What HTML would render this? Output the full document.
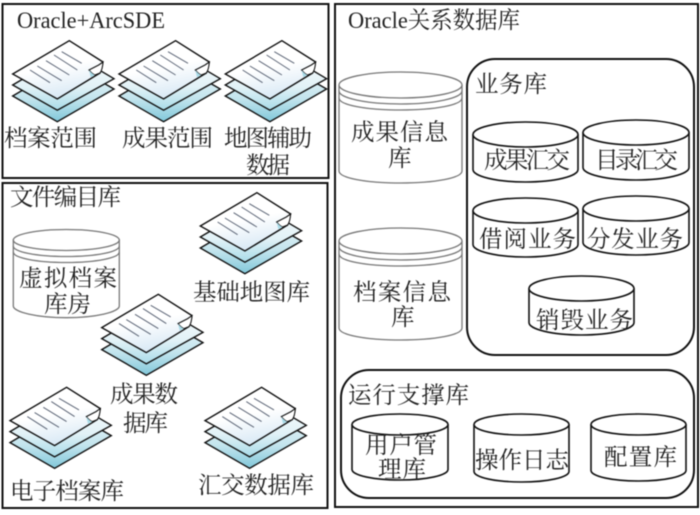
<!DOCTYPE html>
<html><head><meta charset="utf-8">
<style>
html,body{margin:0;padding:0;background:#fff;width:700px;height:515px;overflow:hidden}
svg{display:block;filter:blur(0.4px)}
text{font-family:"Liberation Serif","Noto Serif CJK SC",serif;font-size:23.5px;fill:#222}
</style></head>
<body>
<svg width="700" height="515" viewBox="0 0 700 515" xmlns="http://www.w3.org/2000/svg">
<defs>
<linearGradient id="g1" x1="0" y1="0" x2="0" y2="1"><stop offset="0" stop-color="#f0f8fb"/><stop offset="0.6" stop-color="#c4e5ee"/><stop offset="1" stop-color="#82c8da"/></linearGradient>
<linearGradient id="g2" x1="0" y1="0" x2="0" y2="1"><stop offset="0" stop-color="#fbfdfe"/><stop offset="0.6" stop-color="#e2f2f7"/><stop offset="1" stop-color="#a9dbe8"/></linearGradient>
<linearGradient id="g3" x1="0" y1="0" x2="0.3" y2="1"><stop offset="0" stop-color="#ffffff"/><stop offset="0.55" stop-color="#ffffff"/><stop offset="1" stop-color="#dcebf6"/></linearGradient>
<g id="doc" stroke-linejoin="miter">
<path d="M0 55.3L56 22.3L101.3 48.3L44.6 81Z" fill="url(#g1)" stroke="#111" stroke-width="1.4"/>
<path d="M0 44.3L56 11.3L101.3 38L44.6 69.5Z" fill="url(#g2)" stroke="#111" stroke-width="1.4"/>
<path d="M0 33.3L56.6 0L90.3 21.3L87.3 32.3L44.6 58.3Z" fill="url(#g3)" stroke="#111" stroke-width="1.4"/>
<path d="M76.3 29.3L86 24.3L90.3 21.3C90 26 89 30 87.3 32.3L82.3 34.3C80 33.5 78 31.5 76.3 29.3Z" fill="#fff" stroke="#111" stroke-width="1.1"/>
<path d="M76.3 29.3C78 31.5 80 33.5 82.3 34.3L78 36.5Z" fill="#a9dbe8"/>
<g stroke="#5d6677" stroke-width="1">
<path d="M49 11L69 22.6"/><path d="M41.3 14.3L64.6 29.3"/><path d="M33.3 20L56.6 34.3"/><path d="M24.6 25.3L49 40"/><path d="M17.3 29.3L37.3 42"/>
</g>
</g>
</defs>
<rect width="700" height="515" fill="#fff"/>
<g fill="none" stroke="#111" stroke-width="2">
<rect x="2.5" y="4" width="326" height="174"/>
<rect x="2.5" y="183" width="325" height="325"/>
<rect x="335" y="4" width="363" height="503"/>
<rect x="467" y="59" width="227" height="296" rx="28" ry="28"/>
<rect x="341" y="370" width="353" height="128" rx="28" ry="28"/>
</g>

<use href="#doc" x="12.7" y="40.7"/>
<use href="#doc" x="119" y="40.7"/>
<use href="#doc" x="225.3" y="40.7"/>
<use href="#doc" x="200.3" y="192.7"/>
<use href="#doc" x="101.7" y="294.3"/>
<use href="#doc" x="10" y="387.3"/>
<use href="#doc" x="205" y="387.3"/>

<!-- gray cylinders -->
<g fill="#fff" stroke="#777" stroke-width="1.3">
<path d="M13.3 240V306C13.3 312 37 317.7 66.3 317.7S119.3 312 119.3 306V240"/>
<ellipse cx="66.3" cy="240" rx="53" ry="10.5"/>
<path d="M13.3 246C13.3 252 37 256.5 66.3 256.5S119.3 252 119.3 246" fill="none"/>
<path d="M13.3 252C13.3 258 37 262.5 66.3 262.5S119.3 258 119.3 252" fill="none"/>
<path d="M339 85V171C339 178 366 183 400.5 183S462 178 462 171V85"/>
<ellipse cx="400.5" cy="85" rx="61.5" ry="13"/>
<path d="M339 91C339 98 366 104 400.5 104S462 98 462 91" fill="none"/>
<path d="M339 98C339 105 366 110 400.5 110S462 105 462 98" fill="none"/>
<path d="M339 241V328C339 335 366 340 400.5 340S462 335 462 328V241"/>
<ellipse cx="400.5" cy="241" rx="61.5" ry="13"/>
<path d="M339 247C339 254 366 260 400.5 260S462 254 462 247" fill="none"/>
<path d="M339 254C339 261 366 266 400.5 266S462 261 462 254" fill="none"/>
</g>

<!-- black cylinders -->
<g fill="#fff" stroke="#111" stroke-width="1.6">
<path d="M473 134.500V169.500A52.500 12.500 0 0 0 578 169.500V134.500"/><ellipse cx="525.500" cy="134.500" rx="52.500" ry="12.500"/>
<path d="M583 132.500V167.500A53 12.500 0 0 0 689 167.500V132.500"/><ellipse cx="636" cy="132.500" rx="53" ry="12.500"/>
<path d="M473 210.500V244.500A52.500 12.500 0 0 0 578 244.500V210.500"/><ellipse cx="525.500" cy="210.500" rx="52.500" ry="12.500"/>
<path d="M583 208.500V242.500A53 12.500 0 0 0 689 242.500V208.500"/><ellipse cx="636" cy="208.500" rx="53" ry="12.500"/>
<path d="M529 288.500V322.500A52.500 12.500 0 0 0 634 322.500V288.500"/><ellipse cx="581.500" cy="288.500" rx="52.500" ry="12.500"/>
<path d="M352 424.500V469.500A48 10.500 0 0 0 448 469.500V424.500"/><ellipse cx="400" cy="424.500" rx="48" ry="10.500"/>
<path d="M474 424.500V471.500A47.500 10.500 0 0 0 569 471.500V424.500"/><ellipse cx="521.500" cy="424.500" rx="47.500" ry="10.500"/>
<path d="M591 424.500V470.500A47.500 10.500 0 0 0 686 470.500V424.500"/><ellipse cx="638.500" cy="424.500" rx="47.500" ry="10.500"/>
</g>

<!-- labels -->
<text x="17" y="28" textLength="148" lengthAdjust="spacingAndGlyphs">Oracle+ArcSDE</text>
<text x="4" y="146" textLength="93">档案范围</text>
<text x="122" y="146" textLength="91">成果范围</text>
<text x="224" y="146" textLength="88">地图辅助</text>
<text x="246" y="173" textLength="44">数据</text>
<text x="10" y="205" textLength="111">文件编目库</text>
<text x="19" y="286" textLength="98">虚拟档案</text>
<text x="44" y="312" textLength="47">库房</text>
<text x="193" y="300" textLength="117">基础地图库</text>
<text x="110" y="402" textLength="68">成果数</text>
<text x="123" y="431" textLength="45">据库</text>
<text x="10" y="499" textLength="114">电子档案库</text>
<text x="198" y="493" textLength="116">汇交数据库</text>
<text x="348" y="28" textLength="172" lengthAdjust="spacingAndGlyphs">Oracle关系数据库</text>
<text x="475" y="92" textLength="72">业务库</text>
<text x="351" y="140" textLength="97">成果信息</text>
<text x="388" y="166" textLength="23">库</text>
<text x="353" y="300" textLength="98">档案信息</text>
<text x="391" y="325" textLength="23">库</text>
<text x="484" y="168" textLength="86">成果汇交</text>
<text x="595" y="168" textLength="83">目录汇交</text>
<text x="479" y="247" textLength="97">借阅业务</text>
<text x="587" y="247" textLength="96">分发业务</text>
<text x="536" y="328" textLength="97">销毁业务</text>
<text x="348" y="403" textLength="121">运行支撑库</text>
<text x="365" y="453" textLength="72">用户管</text>
<text x="378" y="477" textLength="48">理库</text>
<text x="475" y="468" textLength="94">操作日志</text>
<text x="604" y="465" textLength="73">配置库</text>
</svg>
</body></html>
